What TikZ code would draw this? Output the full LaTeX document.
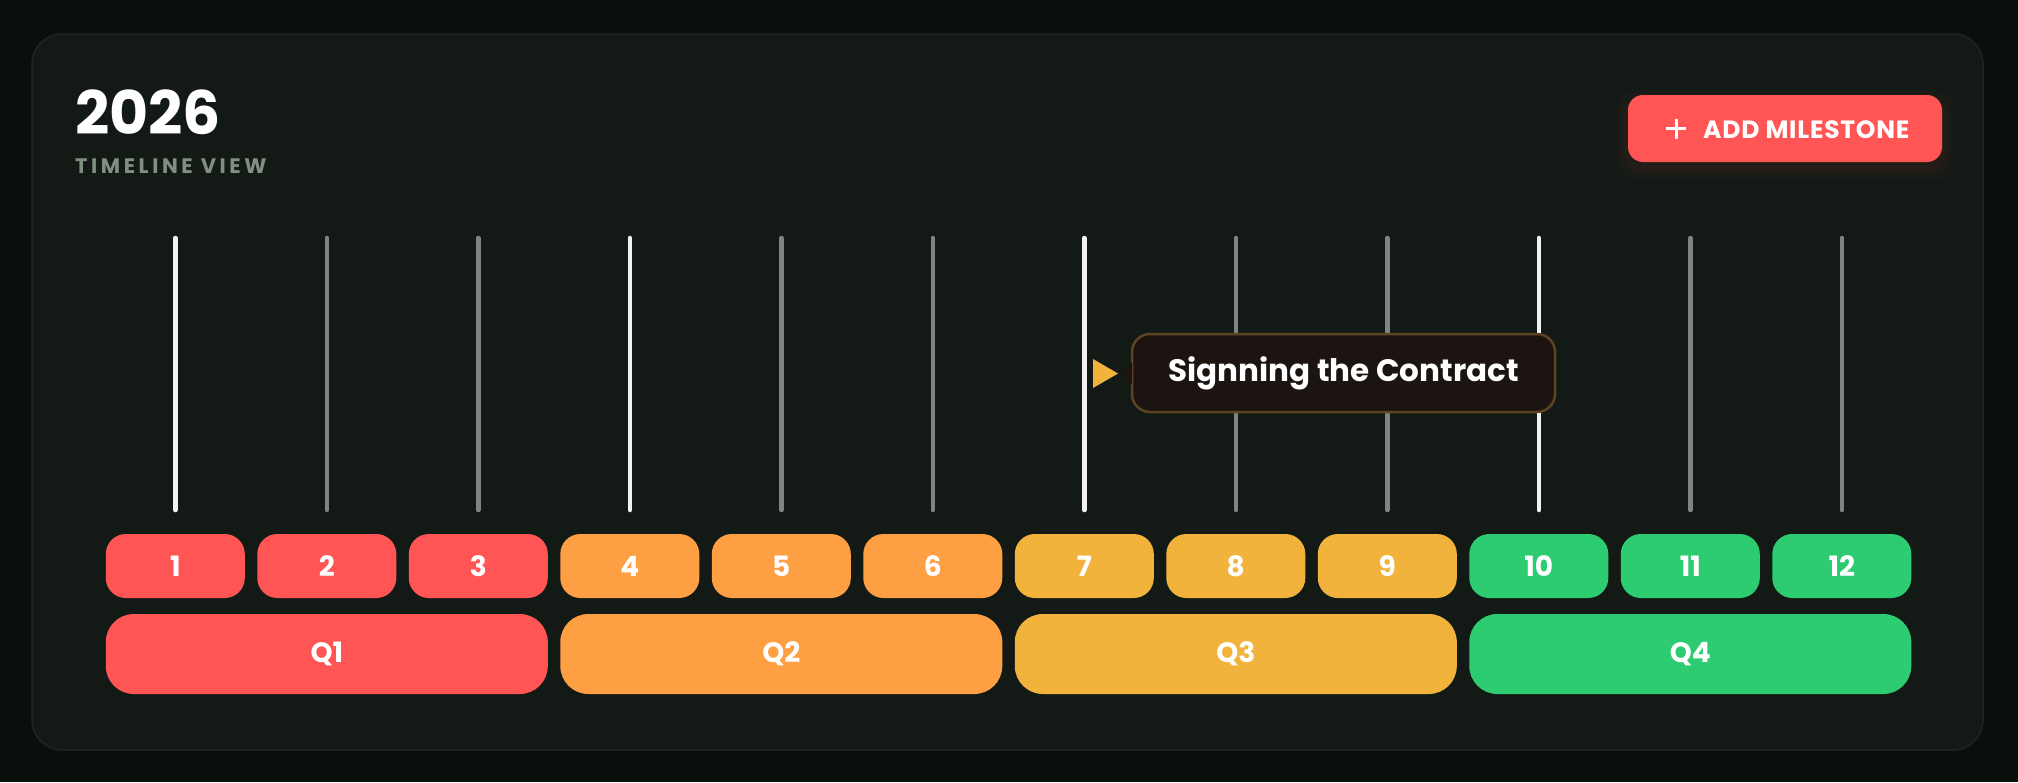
\documentclass[tikz,border=0pt]{standalone}
\usepackage{fontspec}
\setmainfont{Poppins}
\usetikzlibrary{calc}
\definecolor{bg}{HTML}{0B0F0C}
\definecolor{card}{HTML}{131A16}
\definecolor{cardborder}{HTML}{1F2621}
\definecolor{qred}{HTML}{FF5555}
\definecolor{qorange}{HTML}{FF9F43}
\definecolor{qyellow}{HTML}{F2B33D}
\definecolor{qgreen}{HTML}{2ECC71}
\definecolor{lgray}{HTML}{7E8480}
\definecolor{lwhite}{HTML}{F2F2F2}
\definecolor{subtxt}{HTML}{7F8F80}
\definecolor{tipfill}{HTML}{1C1410}
\definecolor{tipborder}{HTML}{5C4422}
\definecolor{glow}{HTML}{5A2A22}
\tikzset{
  monthbox/.style={rectangle, rounded corners=20pt, minimum width=139pt, minimum height=64pt, inner sep=0pt, text=white, font=\fontsize{28}{28}\selectfont\bfseries},
  quarterbox/.style={rectangle, rounded corners=28pt, minimum width=442pt, minimum height=80pt, inner sep=0pt, text=white, font=\fontsize{28}{28}\selectfont\bfseries},
  vline/.style={line width=4.5pt, line cap=round},
  tipbox/.style={rectangle, rounded corners=18pt, fill=tipfill, draw=tipborder, line width=2.5pt, minimum width=423pt, minimum height=78pt, inner sep=0pt, text=white, font=\fontsize{31}{31}\selectfont\bfseries},
  btnbox/.style={rectangle, rounded corners=15pt, fill=qred, minimum width=314pt, minimum height=67pt, inner sep=0pt}
}
\begin{document}
\begin{tikzpicture}[x=1pt,y=-1pt]
\useasboundingbox[fill=bg] (0,0) rectangle (2018,782);
% card
\draw[fill=card, draw=cardborder, line width=1.5pt, rounded corners=30pt] (32,34) rectangle (1983,750);
% title
\node[anchor=base west, inner sep=0pt, text=white, font=\fontsize{60}{60}\selectfont\bfseries] (title) at (75,134) {2026};
\node[anchor=base west, inner sep=0pt, text=subtxt, font=\fontsize{21}{21}\selectfont\bfseries\addfontfeatures{LetterSpace=17}] (subtitle) at (75,173) {TIMELINE VIEW};
% button glow
\foreach \k/\o in {12/0.06,8/0.08,4/0.12}{
  \fill[glow, opacity=\o, rounded corners=20pt] (1628-\k,95+6-\k) rectangle (1942+\k,162+6+\k);
}
\node[btnbox] (button) at (1785,128.5) {};
\draw[white, line width=3pt] (1666,128.5) -- (1686,128.5);
\draw[white, line width=3pt] (1676,118.5) -- (1676,138.5);
\node[anchor=base west, inner sep=0pt, text=white, font=\fontsize{25}{25}\selectfont\bfseries\addfontfeatures{LetterSpace=3}] (btntext) at (1703,138) {ADD MILESTONE};
% vertical lines
\foreach \i/\lc in {1/lwhite,2/lgray,3/lgray,4/lwhite,5/lgray,6/lgray,7/lwhite,8/lgray,9/lgray,10/lwhite,11/lgray,12/lgray}{
  \pgfmathsetmacro\xx{175.3+(\i-1)*151.5}
  \coordinate (lt\i) at (\xx,238);
  \coordinate (lb\i) at (\xx,510);
  \draw[vline, draw=\lc] (lt\i) -- (lb\i);
}
% month boxes
\foreach \i/\c in {1/qred,2/qred,3/qred,4/qorange,5/qorange,6/qorange,7/qyellow,8/qyellow,9/qyellow,10/qgreen,11/qgreen,12/qgreen}{
  \pgfmathsetmacro\xx{175.3+(\i-1)*151.5}
  \node[monthbox, fill=\c] (m\i) at (\xx,566) {\i};
}
% quarter boxes
\foreach \q/\c/\mid in {1/qred/2,2/qorange/5,3/qyellow/8,4/qgreen/11}{
  \pgfmathsetmacro\xx{175.3+(\mid-1)*151.5}
  \node[quarterbox, fill=\c] (q\q) at (\xx,654) {Q\q};
}
% tooltip
\node[tipbox] (tip) at (1343.5,373) {Signning the Contract};
\fill[tipfill] ($(tip.west)+(-9,0)$) -- ($(tip.west)+(1,-11)$) -- ($(tip.west)+(1,11)$) -- cycle;
\coordinate (arrowtip) at (1118,373.5);
\fill[qyellow] (arrowtip) -- ($(arrowtip)+(-25,-14.5)$) -- ($(arrowtip)+(-25,14.5)$) -- cycle;
\end{tikzpicture}
\end{document}
